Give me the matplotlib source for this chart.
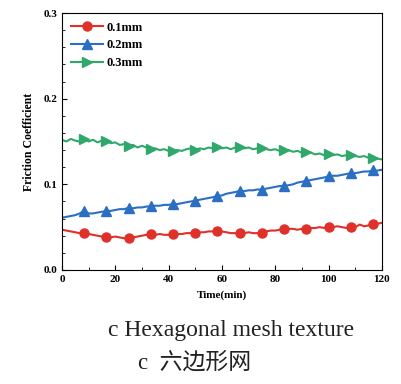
import matplotlib
matplotlib.use('Agg')
import matplotlib.pyplot as plt
import numpy as np
from matplotlib.ticker import MultipleLocator

# time axis: 73 samples over 120 min
time = np.linspace(0, 120, 73)

cof_01 = [0.047, 0.046, 0.045, 0.044, 0.043, 0.0426, 0.042, 0.041, 0.040, 0.039,
          0.038, 0.038, 0.039, 0.038, 0.037, 0.0376, 0.038, 0.039, 0.040, 0.041,
          0.0415, 0.041, 0.042, 0.041, 0.041, 0.0415, 0.042, 0.042, 0.043, 0.043,
          0.0434, 0.044, 0.044, 0.045, 0.045, 0.0457, 0.045, 0.044, 0.043, 0.043,
          0.0426, 0.043, 0.044, 0.043, 0.043, 0.0434, 0.045, 0.046, 0.046, 0.047,
          0.0473, 0.048, 0.048, 0.047, 0.048, 0.0484, 0.049, 0.049, 0.050, 0.049,
          0.0504, 0.050, 0.051, 0.050, 0.049, 0.0496, 0.050, 0.053, 0.051, 0.052,
          0.0535, 0.054, 0.055]

cof_02 = [0.061, 0.062, 0.063, 0.064, 0.066, 0.069, 0.066, 0.066, 0.067, 0.068,
          0.0686, 0.069, 0.070, 0.071, 0.071, 0.0725, 0.072, 0.073, 0.073, 0.074,
          0.0744, 0.075, 0.075, 0.076, 0.076, 0.0767, 0.077, 0.078, 0.079, 0.080,
          0.0806, 0.082, 0.083, 0.084, 0.085, 0.0864, 0.087, 0.089, 0.090, 0.091,
          0.0922, 0.092, 0.093, 0.093, 0.094, 0.0938, 0.095, 0.096, 0.097, 0.098,
          0.098, 0.099, 0.100, 0.102, 0.103, 0.1039, 0.105, 0.106, 0.107, 0.108,
          0.1093, 0.110, 0.110, 0.111, 0.112, 0.113, 0.113, 0.114, 0.115, 0.115,
          0.1163, 0.116, 0.117]

cof_03 = [0.152, 0.150, 0.153, 0.151, 0.150, 0.153, 0.150, 0.152, 0.149, 0.151,
          0.151, 0.148, 0.149, 0.146, 0.147, 0.145, 0.146, 0.143, 0.145, 0.143,
          0.1415, 0.142, 0.140, 0.141, 0.139, 0.1388, 0.140, 0.139, 0.141, 0.142,
          0.140, 0.142, 0.141, 0.143, 0.142, 0.144, 0.142, 0.143, 0.141, 0.143,
          0.1434, 0.142, 0.143, 0.141, 0.142, 0.142, 0.141, 0.140, 0.141, 0.139,
          0.1395, 0.140, 0.138, 0.139, 0.137, 0.1376, 0.137, 0.135, 0.136, 0.134,
          0.135, 0.134, 0.135, 0.133, 0.134, 0.1337, 0.133, 0.132, 0.133, 0.131,
          0.131, 0.130, 0.129]

labels = ['0.1mm', '0.2mm', '0.3mm']

serif = 'Liberation Serif'

fig = plt.figure(figsize=(4.02, 3.84), dpi=100)
ax = fig.add_axes([0.154, 0.297, 0.796, 0.669])

ax.plot(time, cof_01, '-o', color='#e0302a', lw=1.5, ms=6.5, markevery=(5, 5), label=labels[0])
ax.plot(time, cof_02, '-^', color='#2a6fc4', lw=1.5, ms=6.5, markevery=(5, 5), label=labels[1])
ax.plot(time, cof_03, '->', color='#30a86c', lw=1.5, ms=6.5, markevery=(5, 5), label=labels[2])

ax.set_xlim(0, 120)
ax.set_ylim(0, 0.3)
ax.xaxis.set_major_locator(MultipleLocator(20))
ax.xaxis.set_minor_locator(MultipleLocator(10))
ax.yaxis.set_minor_locator(MultipleLocator(0.02))
ax.set_yticks([0, 0.1, 0.2, 0.3])
ax.set_yticklabels(['0.0', '0.1', '0.2', '0.3'])
ax.tick_params(which='both', direction='in', labelsize=8)
ax.tick_params(which='major', length=3.5)
ax.tick_params(which='minor', length=2)
for lab in ax.get_xticklabels() + ax.get_yticklabels():
    lab.set_fontfamily(serif)
    lab.set_fontweight('bold')

ax.set_xlabel('Time(min)', fontfamily=serif, fontweight='bold', fontsize=8, labelpad=5)
ax.set_ylabel('Friction Coefficient', fontfamily=serif, fontweight='bold', fontsize=8.5, labelpad=6)

ax.legend(loc='upper left', frameon=False, prop={'family': serif, 'weight': 'bold', 'size': 9},
          handlelength=2.6, labelspacing=0.45, borderaxespad=0.3, handletextpad=0.3)

fig.text(0.575, 0.14, 'c Hexagonal mesh texture', ha='center', va='center',
         fontfamily=serif, fontsize=17, color='#222222')
fig.text(0.485, 0.055, 'c  六边形网', ha='center', va='center',
         fontfamily=[serif, 'Noto Sans CJK SC'], fontsize=16.5, color='#222222')

fig.savefig('out.png', dpi=100)
